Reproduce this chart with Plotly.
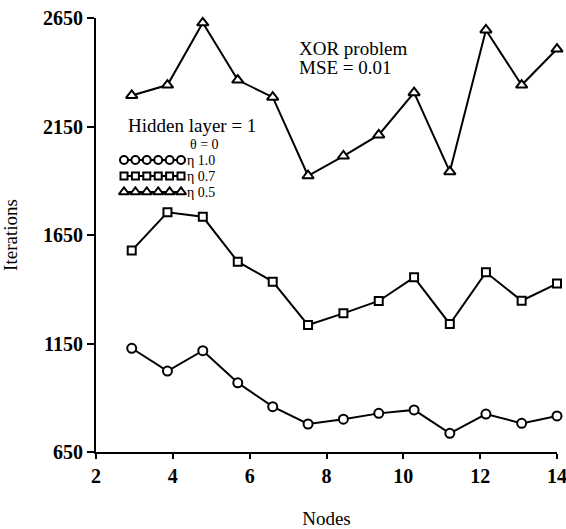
import plotly.graph_objects as go

# ---- data ----
nodes = [2.93, 3.86, 4.78, 5.69, 6.6, 7.52, 8.44, 9.36, 10.28, 11.21, 12.15, 13.08, 14.0]
eta_10 = [1128, 1023, 1117, 969, 859, 779, 801, 828, 844, 736, 825, 782, 816]
eta_07 = [1578, 1755, 1734, 1527, 1435, 1235, 1289, 1346, 1455, 1240, 1478, 1347, 1426]
eta_05 = [2293, 2341, 2628, 2364, 2285, 1923, 2014, 2111, 2306, 1942, 2595, 2341, 2507]
series_names = ["η 1.0", "η 0.7", "η 0.5"]
x_ticks = [2, 4, 6, 8, 10, 12, 14]
y_ticks = [650, 1150, 1650, 2150, 2650]

FONT = "Liberation Serif"
W, H = 566, 529
L, R, T, B = 96, 9, 18, 77

styles = [
    dict(symbol="circle", size=9),
    dict(symbol="square", size=8),
    dict(symbol="triangle-up", size=10),
]

fig = go.Figure()
for ys, name, st in zip([eta_10, eta_07, eta_05], series_names, styles):
    fig.add_trace(go.Scatter(
        x=nodes, y=ys, mode="lines+markers", name=name, showlegend=False,
        line=dict(color="black", width=2),
        marker=dict(symbol=st["symbol"], size=st["size"], color="white",
                    line=dict(color="black", width=2)),
        xaxis="x", yaxis="y", cliponaxis=False,
    ))

# ---- custom legend drawn on a pixel-space overlay axis ----
leg_rows_y = [160, 176, 192]
leg_x0, leg_x1, n_mk = 124, 181, 6
for ry, st in zip(leg_rows_y, styles):
    xs = [leg_x0 + i * (leg_x1 - leg_x0) / (n_mk - 1) for i in range(n_mk)]
    fig.add_trace(go.Scatter(
        x=xs, y=[ry] * n_mk, mode="lines+markers", showlegend=False,
        line=dict(color="black", width=2),
        marker=dict(symbol=st["symbol"], size=st["size"] - 1, color="white",
                    line=dict(color="black", width=2)),
        xaxis="x2", yaxis="y2", cliponaxis=False, hoverinfo="skip",
    ))

annots = [
    dict(text="XOR problem", x=298, y=48, xanchor="left", size=19),
    dict(text="MSE = 0.01", x=298, y=67, xanchor="left", size=19),
    dict(text="Hidden layer = 1", x=127, y=125, xanchor="left", size=19),
    dict(text="θ = 0", x=189, y=144, xanchor="left", size=14),
]
for ry, name in zip(leg_rows_y, series_names):
    annots.append(dict(text=name, x=186, y=ry, xanchor="left", size=14))

for a in annots:
    fig.add_annotation(text=a["text"], x=a["x"], y=a["y"], xref="x2", yref="y2",
                       xanchor=a["xanchor"], yanchor="middle", showarrow=False,
                       font=dict(family=FONT, size=a["size"], color="black"),
                       borderpad=0)

fig.update_layout(
    width=W, height=H,
    margin=dict(l=L, r=R, t=T, b=B, pad=0),
    paper_bgcolor="white", plot_bgcolor="white",
    showlegend=False,
    xaxis=dict(
        range=[2, 14], tickvals=x_ticks, ticktext=["<b>%d</b>" % v for v in x_ticks],
        automargin=False, ticklabeloverflow="allow",
        showgrid=False, zeroline=False, showline=True, linecolor="black", linewidth=2,
        ticks="outside", ticklen=5, tickwidth=2, tickcolor="black",
        tickfont=dict(family=FONT, size=20, color="black"),
        title=dict(text="Nodes", font=dict(family=FONT, size=19, color="black"), standoff=30),
    ),
    yaxis=dict(
        range=[650, 2650], tickvals=y_ticks, ticktext=["<b>%d</b>" % v for v in y_ticks],
        automargin=False,
        showgrid=False, zeroline=False, showline=True, linecolor="black", linewidth=2,
        ticks="outside", ticklen=7, tickwidth=2, tickcolor="black", ticklabelstandoff=0,
        tickfont=dict(family=FONT, size=20, color="black"),
        title=dict(text="Iterations", font=dict(family=FONT, size=19, color="black"), standoff=22),
    ),
    xaxis2=dict(range=[L, W - R], overlaying="x", visible=False, fixedrange=True),
    yaxis2=dict(range=[H - B, T], overlaying="y", visible=False, fixedrange=True),
)

fig.write_html("out.html")
